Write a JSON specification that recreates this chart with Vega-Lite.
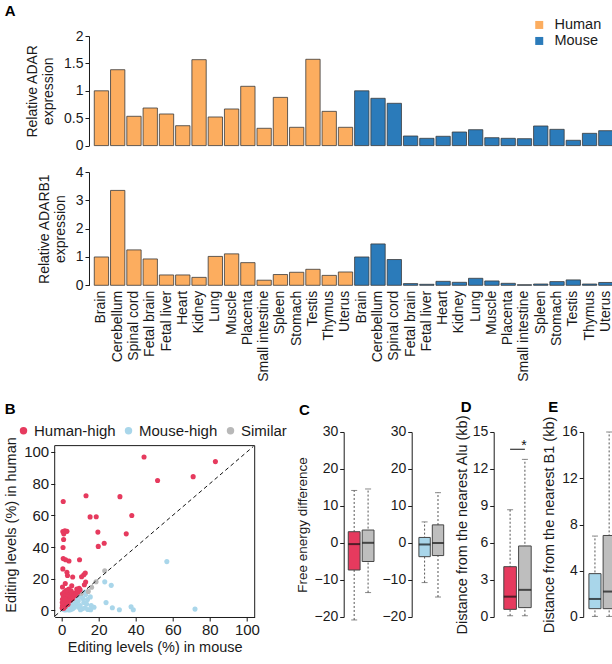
{
  "$schema": "https://vega.github.io/schema/vega-lite/v6.json",
  "padding": {"left": 2.7, "top": 3, "right": 0, "bottom": 0},
  "config": {
    "font": "Liberation Sans",
    "view": {"stroke": null},
    "axis": {"grid": false, "domainColor": "#1a1a1a", "tickColor": "#1a1a1a", "labelColor": "#1a1a1a", "titleColor": "#1a1a1a", "labelFontSize": 14, "titleFontSize": 14, "titleFontWeight": "normal", "tickSize": 4, "labelPadding": 2, "labelOverlap": false, "domain": true, "ticks": true},
    "legend": {"labelColor": "#1a1a1a"},
    "title": {"anchor": "start", "frame": "group", "fontSize": 15, "fontWeight": "bold", "offset": 6, "color": "#000"}
  },
  "datasets": {
    "expr": [
      {"id": "Human Brain", "species": "Human", "adar": 1.0, "adarb1": 1.0},
      {"id": "Human Cerebellum", "species": "Human", "adar": 1.385, "adarb1": 3.35},
      {"id": "Human Spinal cord", "species": "Human", "adar": 0.535, "adarb1": 1.25},
      {"id": "Human Fetal brain", "species": "Human", "adar": 0.686, "adarb1": 0.93},
      {"id": "Human Fetal liver", "species": "Human", "adar": 0.577, "adarb1": 0.365},
      {"id": "Human Heart", "species": "Human", "adar": 0.363, "adarb1": 0.365},
      {"id": "Human Kidney", "species": "Human", "adar": 1.568, "adarb1": 0.28},
      {"id": "Human Lung", "species": "Human", "adar": 0.522, "adarb1": 1.02},
      {"id": "Human Muscle", "species": "Human", "adar": 0.668, "adarb1": 1.11},
      {"id": "Human Placenta", "species": "Human", "adar": 1.082, "adarb1": 0.8},
      {"id": "Human Small intestine", "species": "Human", "adar": 0.316, "adarb1": 0.18},
      {"id": "Human Spleen", "species": "Human", "adar": 0.88, "adarb1": 0.38},
      {"id": "Human Stomach", "species": "Human", "adar": 0.334, "adarb1": 0.46},
      {"id": "Human Testis", "species": "Human", "adar": 1.575, "adarb1": 0.565},
      {"id": "Human Thymus", "species": "Human", "adar": 0.625, "adarb1": 0.35},
      {"id": "Human Uterus", "species": "Human", "adar": 0.334, "adarb1": 0.47},
      {"id": "Mouse Brain", "species": "Mouse", "adar": 1.0, "adarb1": 1.0},
      {"id": "Mouse Cerebellum", "species": "Mouse", "adar": 0.863, "adarb1": 1.46},
      {"id": "Mouse Spinal cord", "species": "Mouse", "adar": 0.772, "adarb1": 0.91},
      {"id": "Mouse Fetal brain", "species": "Mouse", "adar": 0.175, "adarb1": 0.06},
      {"id": "Mouse Fetal liver", "species": "Mouse", "adar": 0.133, "adarb1": 0.035},
      {"id": "Mouse Heart", "species": "Mouse", "adar": 0.17, "adarb1": 0.14},
      {"id": "Mouse Kidney", "species": "Mouse", "adar": 0.248, "adarb1": 0.106},
      {"id": "Mouse Lung", "species": "Mouse", "adar": 0.29, "adarb1": 0.247},
      {"id": "Mouse Muscle", "species": "Mouse", "adar": 0.144, "adarb1": 0.153},
      {"id": "Mouse Placenta", "species": "Mouse", "adar": 0.133, "adarb1": 0.07},
      {"id": "Mouse Small intestine", "species": "Mouse", "adar": 0.126, "adarb1": 0.02},
      {"id": "Mouse Spleen", "species": "Mouse", "adar": 0.358, "adarb1": 0.045},
      {"id": "Mouse Stomach", "species": "Mouse", "adar": 0.297, "adarb1": 0.13},
      {"id": "Mouse Testis", "species": "Mouse", "adar": 0.097, "adarb1": 0.19},
      {"id": "Mouse Thymus", "species": "Mouse", "adar": 0.224, "adarb1": 0.045},
      {"id": "Mouse Uterus", "species": "Mouse", "adar": 0.272, "adarb1": 0.1}
    ],
    "scatter": [
      {"g": "Mouse-high", "m": 56.8, "h": 30.8}, {"g": "Mouse-high", "m": 23.3, "h": 18}, {"g": "Mouse-high", "m": 26.8, "h": 15.8},
      {"g": "Mouse-high", "m": 24, "h": 4.9}, {"g": "Mouse-high", "m": 27.4, "h": 1.7}, {"g": "Mouse-high", "m": 31.2, "h": 0.4},
      {"g": "Mouse-high", "m": 37.5, "h": 2.3}, {"g": "Mouse-high", "m": 38.7, "h": 0.4}, {"g": "Mouse-high", "m": 72, "h": 0.8},
      {"g": "Mouse-high", "m": 12.6, "h": 1.5}, {"g": "Mouse-high", "m": 14.2, "h": 0.6}, {"g": "Mouse-high", "m": 15.7, "h": 0.4},
      {"g": "Mouse-high", "m": 14, "h": 6.8}, {"g": "Mouse-high", "m": 13, "h": 10}, {"g": "Mouse-high", "m": 10.5, "h": 8.5},
      {"g": "Mouse-high", "m": 9, "h": 6}, {"g": "Mouse-high", "m": 8, "h": 4}, {"g": "Mouse-high", "m": 7, "h": 2},
      {"g": "Mouse-high", "m": 6, "h": 1}, {"g": "Mouse-high", "m": 5, "h": 0.5}, {"g": "Mouse-high", "m": 4, "h": 0.2},
      {"g": "Mouse-high", "m": 3, "h": 0.8}, {"g": "Mouse-high", "m": 2, "h": 0.3}, {"g": "Mouse-high", "m": 10, "h": 3},
      {"g": "Mouse-high", "m": 11, "h": 1}, {"g": "Mouse-high", "m": 12, "h": 5}, {"g": "Mouse-high", "m": 6, "h": 3.5},
      {"g": "Mouse-high", "m": 8, "h": 6.5}, {"g": "Mouse-high", "m": 9.5, "h": 1.8}, {"g": "Mouse-high", "m": 4.5, "h": 2.5},
      {"g": "Mouse-high", "m": 3.5, "h": 1.8}, {"g": "Mouse-high", "m": 5.5, "h": 4.5}, {"g": "Mouse-high", "m": 7, "h": 5.5},
      {"g": "Mouse-high", "m": 11.5, "h": 7.5}, {"g": "Mouse-high", "m": 13.5, "h": 4}, {"g": "Mouse-high", "m": 2.5, "h": 1.5},
      {"g": "Mouse-high", "m": 1, "h": 0.5}, {"g": "Mouse-high", "m": 16, "h": 3}, {"g": "Mouse-high", "m": 9, "h": 9.2},
      {"g": "Mouse-high", "m": 7.5, "h": 7}, {"g": "Mouse-high", "m": 10.2, "h": 0.4}, {"g": "Mouse-high", "m": 12.5, "h": 11.5},
      {"g": "Mouse-high", "m": 15.5, "h": 8.5}, {"g": "Mouse-high", "m": 17.5, "h": 2},
      {"g": "Similar", "m": 23.3, "h": 25}, {"g": "Similar", "m": 18.6, "h": 18.1}, {"g": "Similar", "m": 16.2, "h": 14.6},
      {"g": "Similar", "m": 14.4, "h": 12}, {"g": "Similar", "m": 10.5, "h": 10.8},
      {"g": "Human-high", "m": 44.5, "h": 96.8}, {"g": "Human-high", "m": 51.8, "h": 82}, {"g": "Human-high", "m": 71, "h": 84.4},
      {"g": "Human-high", "m": 83, "h": 93.9}, {"g": "Human-high", "m": 13.2, "h": 72.4}, {"g": "Human-high", "m": 31.5, "h": 71.8},
      {"g": "Human-high", "m": 0.9, "h": 68.7}, {"g": "Human-high", "m": 15.4, "h": 59}, {"g": "Human-high", "m": 18.7, "h": 59.1},
      {"g": "Human-high", "m": 37.9, "h": 59.9}, {"g": "Human-high", "m": 0.7, "h": 49.8}, {"g": "Human-high", "m": 1.8, "h": 50.2},
      {"g": "Human-high", "m": 2.9, "h": 49.9}, {"g": "Human-high", "m": 1.2, "h": 48.3}, {"g": "Human-high", "m": 19.6, "h": 49.4},
      {"g": "Human-high", "m": 34.9, "h": 48.3}, {"g": "Human-high", "m": 1.1, "h": 44.7}, {"g": "Human-high", "m": 0.8, "h": 39.7},
      {"g": "Human-high", "m": 23, "h": 42.4}, {"g": "Human-high", "m": 19.8, "h": 40.4}, {"g": "Human-high", "m": 0.9, "h": 32.7},
      {"g": "Human-high", "m": 2.2, "h": 32}, {"g": "Human-high", "m": 4, "h": 31.2}, {"g": "Human-high", "m": 9.7, "h": 32},
      {"g": "Human-high", "m": 0.7, "h": 26.2}, {"g": "Human-high", "m": 2.9, "h": 24}, {"g": "Human-high", "m": 3.2, "h": 22},
      {"g": "Human-high", "m": 6, "h": 21.1}, {"g": "Human-high", "m": 10.8, "h": 21.2}, {"g": "Human-high", "m": 12, "h": 22.5},
      {"g": "Human-high", "m": 12.8, "h": 23.6}, {"g": "Human-high", "m": 0.5, "h": 14.8}, {"g": "Human-high", "m": 13, "h": 17.9},
      {"g": "Human-high", "m": 12.3, "h": 16.2}, {"g": "Human-high", "m": 4, "h": 13.5}, {"g": "Human-high", "m": 8.2, "h": 13.5},
      {"g": "Human-high", "m": 2, "h": 17}, {"g": "Human-high", "m": 5.5, "h": 15.5}, {"g": "Human-high", "m": 7, "h": 11},
      {"g": "Human-high", "m": 9.5, "h": 14}, {"g": "Human-high", "m": 0.5, "h": 10.5}, {"g": "Human-high", "m": 1, "h": 9},
      {"g": "Human-high", "m": 1.5, "h": 11.5}, {"g": "Human-high", "m": 2, "h": 8}, {"g": "Human-high", "m": 2.5, "h": 10},
      {"g": "Human-high", "m": 3, "h": 7.5}, {"g": "Human-high", "m": 3.5, "h": 9.5}, {"g": "Human-high", "m": 4, "h": 11.5},
      {"g": "Human-high", "m": 1, "h": 6}, {"g": "Human-high", "m": 1.5, "h": 5}, {"g": "Human-high", "m": 2, "h": 4},
      {"g": "Human-high", "m": 2.5, "h": 6.5}, {"g": "Human-high", "m": 3, "h": 5}, {"g": "Human-high", "m": 4.5, "h": 7.5},
      {"g": "Human-high", "m": 5, "h": 9}, {"g": "Human-high", "m": 5.5, "h": 11}, {"g": "Human-high", "m": 6, "h": 8},
      {"g": "Human-high", "m": 6.5, "h": 10}, {"g": "Human-high", "m": 7.5, "h": 9.5}, {"g": "Human-high", "m": 0.5, "h": 3},
      {"g": "Human-high", "m": 1, "h": 2.2}, {"g": "Human-high", "m": 1.5, "h": 3.5}, {"g": "Human-high", "m": 2, "h": 2.5},
      {"g": "Human-high", "m": 3, "h": 4.2}, {"g": "Human-high", "m": 4, "h": 6}, {"g": "Human-high", "m": 5, "h": 6.5},
      {"g": "Human-high", "m": 6, "h": 7.5}, {"g": "Human-high", "m": 8, "h": 10.5}, {"g": "Human-high", "m": 9, "h": 11.8},
      {"g": "Human-high", "m": 0.5, "h": 7}, {"g": "Human-high", "m": 2.5, "h": 12.5}, {"g": "Human-high", "m": 3.5, "h": 3.8},
      {"g": "Human-high", "m": 1.2, "h": 1.3}, {"g": "Human-high", "m": 0.3, "h": 1.5}, {"g": "Human-high", "m": 10, "h": 13},
      {"g": "Human-high", "m": 0.4, "h": 5}, {"g": "Human-high", "m": 1.8, "h": 7}, {"g": "Human-high", "m": 3.2, "h": 12.8},
      {"g": "Human-high", "m": 5.2, "h": 12.2}
    ],
    "boxC1": [
      {"g": "Human-high", "lo": -20.8, "q1": -7.3, "med": -0.3, "q3": 3.05, "hi": 14.2},
      {"g": "Similar", "lo": -13.4, "q1": -5.0, "med": 0.05, "q3": 3.5, "hi": 14.6}
    ],
    "boxC2": [
      {"g": "Mouse-high", "lo": -10.7, "q1": -3.7, "med": -0.4, "q3": 1.5, "hi": 5.7},
      {"g": "Similar", "lo": -14.6, "q1": -3.4, "med": 0, "q3": 4.9, "hi": 13.6}
    ],
    "boxD": [
      {"g": "Human-high", "lo": 0.1, "q1": 0.62, "med": 1.65, "q3": 4.08, "hi": 8.7},
      {"g": "Similar", "lo": 0.1, "q1": 0.76, "med": 2.2, "q3": 5.76, "hi": 12.78}
    ],
    "boxE": [
      {"g": "Mouse-high", "lo": 0.05, "q1": 0.72, "med": 1.56, "q3": 3.75, "hi": 7.0},
      {"g": "Similar", "lo": 0.05, "q1": 0.72, "med": 2.2, "q3": 7.05, "hi": 16}
    ]
  },
  "spacing": 18,
  "resolve": {"scale": {"color": "independent"}, "legend": {"color": "independent"}},
  "vconcat": [
    {
      "spacing": 26,
      "bounds": "flush",
      "resolve": {"scale": {"color": "independent", "x": "independent"}, "legend": {"color": "independent"}},
      "vconcat": [
        {
          "width": 558.3, "height": 109.6,
          "title": {"text": "A", "dx": -50, "offset": -1},
          "data": {"name": "expr"},
          "mark": {"type": "bar", "stroke": "#3a3a3a", "strokeWidth": 0.8},
          "encoding": {
            "x": {"field": "id", "type": "nominal", "axis": null, "scale": {"domain": ["Pad 1", "Pad 2", "Human Brain", "Human Cerebellum", "Human Spinal cord", "Human Fetal brain", "Human Fetal liver", "Human Heart", "Human Kidney", "Human Lung", "Human Muscle", "Human Placenta", "Human Small intestine", "Human Spleen", "Human Stomach", "Human Testis", "Human Thymus", "Human Uterus", "Mouse Brain", "Mouse Cerebellum", "Mouse Spinal cord", "Mouse Fetal brain", "Mouse Fetal liver", "Mouse Heart", "Mouse Kidney", "Mouse Lung", "Mouse Muscle", "Mouse Placenta", "Mouse Small intestine", "Mouse Spleen", "Mouse Stomach", "Mouse Testis", "Mouse Thymus", "Mouse Uterus"], "paddingInner": 0.12, "paddingOuter": 0.216, "align": 1}},
            "y": {"field": "adar", "type": "quantitative", "scale": {"domain": [0, 2], "nice": false}, "axis": {"offset": -34.3, "values": [0, 0.5, 1, 1.5, 2], "tickCount": 20, "format": "~g", "title": ["Relative ADAR", "expression"], "titlePadding": 8, "titleLineHeight": 16}},
            "color": {"field": "species", "type": "nominal", "scale": {"domain": ["Human", "Mouse"], "range": ["#FCAD5F", "#2B7BBA"]}, "legend": {"orient": "none", "legendX": 477.3, "legendY": -18.3, "title": null, "symbolType": "square", "symbolSize": 64, "labelFontSize": 14.5, "labelOffset": 8, "rowPadding": 1, "padding": 0, "symbolStrokeWidth": 0}}
          }
        },
        {
          "width": 558.3, "height": 113.3,
          "data": {"name": "expr"},
          "mark": {"type": "bar", "stroke": "#3a3a3a", "strokeWidth": 0.8},
          "encoding": {
            "x": {"field": "id", "type": "nominal", "scale": {"domain": ["Pad 1", "Pad 2", "Human Brain", "Human Cerebellum", "Human Spinal cord", "Human Fetal brain", "Human Fetal liver", "Human Heart", "Human Kidney", "Human Lung", "Human Muscle", "Human Placenta", "Human Small intestine", "Human Spleen", "Human Stomach", "Human Testis", "Human Thymus", "Human Uterus", "Mouse Brain", "Mouse Cerebellum", "Mouse Spinal cord", "Mouse Fetal brain", "Mouse Fetal liver", "Mouse Heart", "Mouse Kidney", "Mouse Lung", "Mouse Muscle", "Mouse Placenta", "Mouse Small intestine", "Mouse Spleen", "Mouse Stomach", "Mouse Testis", "Mouse Thymus", "Mouse Uterus"], "paddingInner": 0.12, "paddingOuter": 0.216, "align": 1}, "axis": {"title": null, "labelAngle": -90, "ticks": false, "domain": false, "labelPadding": 5, "labelExpr": "slice(datum.label, 6)"}},
            "y": {"field": "adarb1", "type": "quantitative", "scale": {"domain": [0, 4], "nice": false}, "axis": {"offset": -34.3, "values": [0, 1, 2, 3, 4], "tickCount": 20, "format": "d", "title": ["Relative ADARB1", "expression"], "titlePadding": 8, "titleLineHeight": 16}},
            "color": {"field": "species", "type": "nominal", "scale": {"domain": ["Human", "Mouse"], "range": ["#FCAD5F", "#2B7BBA"]}, "legend": null}
          }
        }
      ]
    },
    {
      "spacing": 0,
      "bounds": "flush",
      "resolve": {"scale": {"color": "independent"}, "legend": {"color": "independent"}},
      "hconcat": [
        {
          "width": 200, "height": 185,
          "title": {"text": "B", "dx": -50},
          "layer": [
            {
              "data": {"name": "scatter"},
              "mark": {"type": "circle", "size": 26, "opacity": 1},
              "encoding": {
                "x": {"field": "m", "type": "quantitative", "scale": {"domain": [-3.7, 104.2], "nice": false, "zero": false}, "axis": {"values": [0, 20, 40, 60, 80, 100], "tickCount": 20, "format": "d", "title": "Editing levels (%) in mouse", "labelFontSize": 15, "titleFontSize": 14.5, "titlePadding": 3}},
                "y": {"field": "h", "type": "quantitative", "scale": {"domain": [-4.17, 112.6], "nice": false, "zero": false}, "axis": {"values": [0, 20, 40, 60, 80, 100], "tickCount": 20, "format": "d", "domain": false, "title": "Editing levels (%) in human", "labelFontSize": 15, "titleFontSize": 14.5, "titlePadding": 5}},
                "color": {"field": "g", "type": "nominal", "scale": {"domain": ["Human-high", "Mouse-high", "Similar"], "range": ["#E63A5E", "#A9D6EA", "#B8B8B8"]}, "legend": {"orient": "none", "legendX": -38.7, "legendY": -9, "direction": "horizontal", "title": null, "symbolType": "circle", "symbolSize": 55, "symbolOpacity": 1, "labelFontSize": 15, "labelOffset": 3, "columnPadding": 5, "padding": 0, "symbolStrokeWidth": 0}}
              }
            },
            {
              "data": {"values": [{}]},
              "mark": {"type": "rule", "strokeDash": [4, 3], "color": "#111", "strokeWidth": 1},
              "encoding": {"x": {"datum": -3.5}, "y": {"datum": -3.5}, "x2": {"datum": 103.5}, "y2": {"datum": 103.5}}
            },
            {
              "data": {"values": [{}]},
              "mark": {"type": "rule", "color": "#1a1a1a", "strokeWidth": 1},
              "encoding": {"x": {"datum": -3.7}, "y": {"datum": -4.17}, "y2": {"datum": 104}}
            },
            {
              "data": {"values": [{}]},
              "mark": {"type": "rule", "color": "#1a1a1a", "strokeWidth": 1},
              "encoding": {"x": {"datum": 104.2}, "y": {"datum": -4.17}, "y2": {"datum": 104}}
            },
            {
              "data": {"values": [{}]},
              "mark": {"type": "rule", "color": "#1a1a1a", "strokeWidth": 1},
              "encoding": {"x": {"datum": -3.7}, "x2": {"datum": 104.2}, "y": {"datum": 104}}
            }
          ]
        },
        {
          "width": 119.3, "height": 185,
          "title": {"text": "C", "dx": 44.3, "offset": 7},
          "data": {"name": "boxC1"},
          "encoding": {"x": {"field": "g", "type": "nominal", "axis": null, "scale": {"domain": ["p1", "p2", "p3", "p4", "p5", "p6", "Human-high", "Similar"], "paddingInner": 0.15, "paddingOuter": 0.366, "align": 1}}},
          "layer": [
            {"mark": {"type": "rule", "strokeDash": [2, 2], "color": "#555"}, "encoding": {"y": {"field": "lo", "type": "quantitative", "title": "Free energy difference", "scale": {"domain": [-20, 30], "nice": false}, "axis": {"offset": -89, "values": [-20, -10, 0, 10, 20, 30], "tickCount": 20, "format": "d", "titleFontSize": 13.5, "titlePadding": 4}}, "y2": {"field": "hi"}}},
            {"mark": {"type": "tick", "color": "#555", "size": 6, "thickness": 1}, "encoding": {"y": {"field": "lo", "type": "quantitative", "title": "Free energy difference"}}},
            {"mark": {"type": "tick", "color": "#555", "size": 6, "thickness": 1}, "encoding": {"y": {"field": "hi", "type": "quantitative", "title": "Free energy difference"}}},
            {"mark": {"type": "bar", "stroke": "#444", "strokeWidth": 1}, "encoding": {"y": {"field": "q1", "type": "quantitative", "title": "Free energy difference"}, "y2": {"field": "q3"}, "color": {"field": "g", "type": "nominal", "scale": {"domain": ["Human-high", "Mouse-high", "Similar"], "range": ["#E63A5E", "#A9D6EA", "#BEBEBE"]}, "legend": null}}},
            {"mark": {"type": "tick", "color": "#111", "size": 11.8, "thickness": 2}, "encoding": {"y": {"field": "med", "type": "quantitative", "title": "Free energy difference"}}}
          ]
        },
        {
          "width": 69, "height": 185,
          "data": {"name": "boxC2"},
          "encoding": {"x": {"field": "g", "type": "nominal", "axis": null, "scale": {"domain": ["p1", "p2", "Mouse-high", "Similar"], "paddingInner": 0.15, "paddingOuter": 0.65, "align": 1}}},
          "layer": [
            {"mark": {"type": "rule", "strokeDash": [2, 2], "color": "#555"}, "encoding": {"y": {"field": "lo", "type": "quantitative", "title": null, "scale": {"domain": [-20, 30], "nice": false}, "axis": {"offset": -37, "values": [-20, -10, 0, 10, 20, 30], "tickCount": 20, "format": "d"}}, "y2": {"field": "hi"}}},
            {"mark": {"type": "tick", "color": "#555", "size": 6, "thickness": 1}, "encoding": {"y": {"field": "lo", "type": "quantitative", "title": null}}},
            {"mark": {"type": "tick", "color": "#555", "size": 6, "thickness": 1}, "encoding": {"y": {"field": "hi", "type": "quantitative", "title": null}}},
            {"mark": {"type": "bar", "stroke": "#444", "strokeWidth": 1}, "encoding": {"y": {"field": "q1", "type": "quantitative", "title": null}, "y2": {"field": "q3"}, "color": {"field": "g", "type": "nominal", "scale": {"domain": ["Human-high", "Mouse-high", "Similar"], "range": ["#E63A5E", "#A9D6EA", "#BEBEBE"]}, "legend": null}}},
            {"mark": {"type": "tick", "color": "#111", "size": 11.4, "thickness": 2}, "encoding": {"y": {"field": "med", "type": "quantitative", "title": null}}}
          ]
        },
        {
          "width": 87.5, "height": 185,
          "title": {"text": "D", "dx": 17, "offset": -1},
          "data": {"name": "boxD"},
          "encoding": {"x": {"field": "g", "type": "nominal", "axis": null, "scale": {"domain": ["p1", "p2", "p3", "Human-high", "Similar"], "paddingInner": 0.15, "paddingOuter": 0.531, "align": 1}}},
          "layer": [
            {"mark": {"type": "rule", "strokeDash": [2, 2], "color": "#555"}, "encoding": {"y": {"field": "lo", "type": "quantitative", "title": "Distance from the nearest Alu (kb)", "scale": {"domain": [0, 15], "nice": false}, "axis": {"offset": -50, "values": [0, 3, 6, 9, 12, 15], "tickCount": 20, "format": "d", "titleFontSize": 14.5, "titlePadding": 3}}, "y2": {"field": "hi"}}},
            {"mark": {"type": "tick", "color": "#555", "size": 6, "thickness": 1}, "encoding": {"y": {"field": "lo", "type": "quantitative", "title": "Distance from the nearest Alu (kb)"}}},
            {"mark": {"type": "tick", "color": "#555", "size": 6, "thickness": 1}, "encoding": {"y": {"field": "hi", "type": "quantitative", "title": "Distance from the nearest Alu (kb)"}}},
            {"mark": {"type": "bar", "stroke": "#444", "strokeWidth": 1}, "encoding": {"y": {"field": "q1", "type": "quantitative", "title": "Distance from the nearest Alu (kb)"}, "y2": {"field": "q3"}, "color": {"field": "g", "type": "nominal", "scale": {"domain": ["Human-high", "Mouse-high", "Similar"], "range": ["#E63A5E", "#A9D6EA", "#BEBEBE"]}, "legend": null}}},
            {"mark": {"type": "tick", "color": "#111", "size": 12.6, "thickness": 2}, "encoding": {"y": {"field": "med", "type": "quantitative", "title": "Distance from the nearest Alu (kb)"}}},
            {"data": {"values": [{}]}, "mark": {"type": "rule", "color": "#111", "strokeWidth": 1}, "encoding": {"x": {"datum": "Human-high", "bandPosition": 0.5}, "x2": {"datum": "Similar", "bandPosition": 0.5}, "y": {"datum": 13.6}}},
            {"data": {"values": [{}]}, "mark": {"type": "text", "text": "*", "fontSize": 14, "baseline": "middle", "dy": -3, "dx": -1, "color": "#111"}, "encoding": {"x": {"datum": "Similar"}, "y": {"datum": 13.6}}}
          ]
        },
        {
          "width": 83.5, "height": 185,
          "title": {"text": "E", "dx": 16.5, "offset": 1},
          "data": {"name": "boxE"},
          "encoding": {"x": {"field": "g", "type": "nominal", "axis": null, "scale": {"domain": ["p1", "p2", "p3", "Mouse-high", "Similar"], "paddingInner": 0.15, "paddingOuter": 0.515, "align": 1}}},
          "layer": [
            {"mark": {"type": "rule", "strokeDash": [2, 2], "color": "#555"}, "encoding": {"y": {"field": "lo", "type": "quantitative", "title": "Distance from the nearest B1 (kb)", "scale": {"domain": [0, 16], "nice": false}, "axis": {"offset": -51.5, "values": [0, 4, 8, 12, 16], "tickCount": 20, "format": "d", "titleFontSize": 14.5, "titlePadding": 5}}, "y2": {"field": "hi"}}},
            {"mark": {"type": "tick", "color": "#555", "size": 6, "thickness": 1}, "encoding": {"y": {"field": "lo", "type": "quantitative", "title": "Distance from the nearest B1 (kb)"}}},
            {"mark": {"type": "tick", "color": "#555", "size": 6, "thickness": 1}, "encoding": {"y": {"field": "hi", "type": "quantitative", "title": "Distance from the nearest B1 (kb)"}}},
            {"mark": {"type": "bar", "stroke": "#444", "strokeWidth": 1}, "encoding": {"y": {"field": "q1", "type": "quantitative", "title": "Distance from the nearest B1 (kb)"}, "y2": {"field": "q3"}, "color": {"field": "g", "type": "nominal", "scale": {"domain": ["Human-high", "Mouse-high", "Similar"], "range": ["#E63A5E", "#A9D6EA", "#BEBEBE"]}, "legend": null}}},
            {"mark": {"type": "tick", "color": "#111", "size": 12, "thickness": 2}, "encoding": {"y": {"field": "med", "type": "quantitative", "title": "Distance from the nearest B1 (kb)"}}}
          ]
        }
      ]
    }
  ]
}
